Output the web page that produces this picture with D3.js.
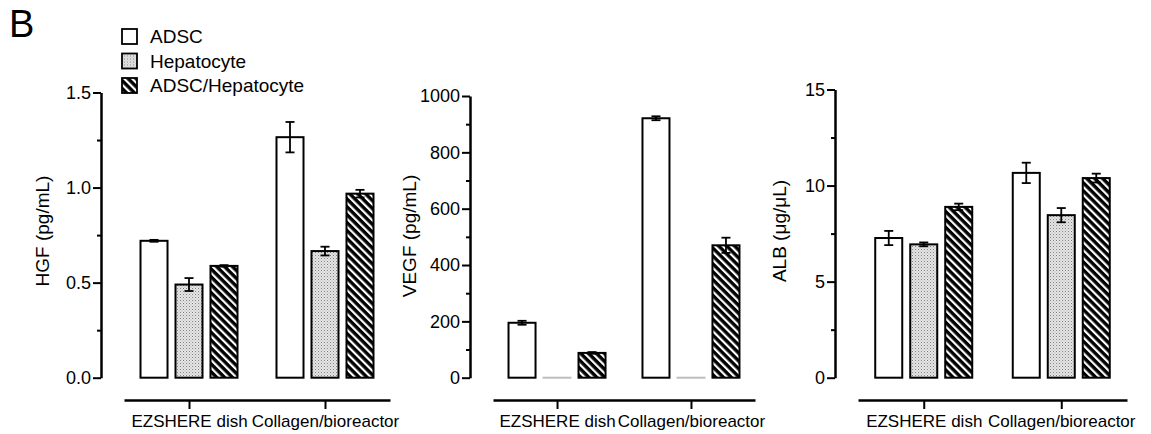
<!DOCTYPE html>
<html><head><meta charset="utf-8">
<script src="https://cdn.jsdelivr.net/npm/d3@7"></script>
<style>body{margin:0;background:#fff}svg{display:block}text{font-family:"Liberation Sans",Arial,sans-serif;fill:#000}</style>
</head><body><svg id="c" width="1151" height="434"></svg>
<script>
const categories = ["EZSHERE dish", "Collagen/bioreactor"];
const series = ["ADSC", "Hepatocyte", "ADSC/Hepatocyte"];
// values[series][category]
const hgfMean = [[0.72, 1.265], [0.49, 0.666], [0.588, 0.968]];
const hgfErr  = [[0.005, 0.08], [0.034, 0.023], [0.004, 0.02]];
const vegfMean = [[195, 921], [0, 0], [88, 470]];
const vegfErr  = [[7, 7], [0, 0], [3, 27]];
const albMean = [[7.27, 10.66], [6.94, 8.46], [8.89, 10.39]];
const albErr  = [[0.37, 0.53], [0.1, 0.37], [0.17, 0.23]];
const hgfTicks = [0, 0.5, 1.0, 1.5];
const hgfMinor = [0.25, 0.75, 1.25];
const vegfTicks = [0, 200, 400, 600, 800, 1000];
const vegfMinor = [100, 300, 500, 700, 900];
const albTicks = [0, 5, 10, 15];
const albMinor = [2.5, 7.5, 12.5];
const yTitles = ["HGF (pg/mL)", "VEGF (pg/mL)", "ALB (\u03bcg/\u03bcL)"];

const svg = d3.select("#c");
const defs = svg.append("defs");
const st = defs.append("pattern").attr("id","stip").attr("patternUnits","userSpaceOnUse").attr("width",3).attr("height",3);
st.append("rect").attr("width",3).attr("height",3).attr("fill","#e6e6e6");
st.append("rect").attr("x",0).attr("y",0).attr("width",1).attr("height",1).attr("fill","#808080");
st.append("rect").attr("x",1.5).attr("y",1.5).attr("width",1).attr("height",1).attr("fill","#a8a8a8");
const ht = defs.append("pattern").attr("id","hatch").attr("patternUnits","userSpaceOnUse").attr("width",5.6).attr("height",5.6).attr("patternTransform","rotate(-45)");
ht.append("rect").attr("width",5.6).attr("height",5.6).attr("fill","#000");
ht.append("rect").attr("x",0).attr("y",0).attr("width",2.2).attr("height",5.6).attr("fill","#fff");
const fills = ["#fff", "url(#stip)", "url(#hatch)"];

const panels = [
  {mean: hgfMean, err: hgfErr, ticks: hgfTicks, minor: hgfMinor, max: 1.5, fmt: d3.format(".1f"),
   yx: 101, yTop: 92.5, xr: [124, 390], title: yTitles[0], tx: 42, ty: 231},
  {mean: vegfMean, err: vegfErr, ticks: vegfTicks, minor: vegfMinor, max: 1000, fmt: d3.format("d"),
   yx: 470, yTop: 96, xr: [493, 755], title: yTitles[1], tx: 409, ty: 236},
  {mean: albMean, err: albErr, ticks: albTicks, minor: albMinor, max: 15, fmt: d3.format("d"),
   yx: 835, yTop: 89.5, xr: [858, 1127], title: yTitles[2], tx: 779, ty: 231}
];
const yBottom = 377.7, xAxisY = 400;
const FF = '"Liberation Sans",Arial,sans-serif';

panels.forEach(p => {
  const g = svg.append("g");
  const y = d3.scaleLinear().domain([0, p.max]).range([yBottom, p.yTop]);
  const x = d3.scalePoint().domain(categories).range(p.xr).padding(0.478);
  const xi = d3.scaleBand().domain(series).range([-49.5, 49.5]).paddingInner(0.171).paddingOuter(0);

  categories.forEach((c, ci) => {
    series.forEach((s, si) => {
      const v = p.mean[si][ci], e = p.err[si][ci];
      const bx = x(c) + xi(s);
      if (v === 0) {
        g.append("line").attr("x1", bx).attr("x2", bx + xi.bandwidth()).attr("y1", y(0)).attr("y2", y(0))
          .attr("stroke", "#bdbdbd").attr("stroke-width", 2);
        return;
      }
      g.append("rect").attr("x", bx + 1).attr("y", y(v)).attr("width", xi.bandwidth() - 2).attr("height", y(0) - y(v))
        .attr("fill", fills[si]).attr("stroke", "#000").attr("stroke-width", 2);
      if (e > 0) {
        const cx = bx + xi.bandwidth() / 2;
        const eg = g.append("g").attr("stroke", "#000").attr("stroke-width", 1.8);
        eg.append("line").attr("x1", cx).attr("x2", cx).attr("y1", y(v + e)).attr("y2", y(v - e));
        eg.append("line").attr("x1", cx - 4.5).attr("x2", cx + 4.5).attr("y1", y(v + e)).attr("y2", y(v + e));
        eg.append("line").attr("x1", cx - 4.5).attr("x2", cx + 4.5).attr("y1", y(v - e)).attr("y2", y(v - e));
      }
    });
  });

  const ya = g.append("g").attr("transform", `translate(${p.yx},0)`)
    .call(d3.axisLeft(y).tickValues(p.ticks).tickFormat(p.fmt).tickSize(8).tickSizeOuter(0).tickPadding(2));
  ya.attr("font-size", null).attr("font-family", null);
  ya.select(".domain").attr("stroke-width", 2.5);
  ya.selectAll(".tick line").attr("stroke-width", 2);
  ya.selectAll(".tick text").style("font-size", "18px").style("font-family", FF);
  const ym = g.append("g").attr("transform", `translate(${p.yx},0)`)
    .call(d3.axisLeft(y).tickValues(p.minor).tickFormat("").tickSize(4).tickSizeOuter(0));
  ym.select(".domain").remove();
  ym.selectAll(".tick line").attr("stroke-width", 2);

  const xa = g.append("g").attr("transform", `translate(0,${xAxisY})`)
    .call(d3.axisBottom(x).tickSize(9).tickSizeOuter(0).tickPadding(5));
  xa.attr("font-size", null).attr("font-family", null);
  xa.select(".domain").attr("stroke-width", 2.5);
  xa.selectAll(".tick line").attr("stroke-width", 2);
  xa.selectAll(".tick text").style("font-size", "17px").style("font-family", FF).attr("dy", "0.75em");

  g.append("text").attr("transform", `translate(${p.tx},${p.ty}) rotate(-90)`)
    .attr("text-anchor", "middle").attr("dominant-baseline", "central").style("font-size", "19px").text(p.title);
});

svg.append("text").attr("x", 9).attr("y", 37).style("font-size", "38px").text("B");
const lg = svg.append("g").attr("transform", "translate(121,28)");
series.forEach((s, i) => {
  const r = lg.append("g").attr("transform", `translate(0,${i * 24.5})`);
  r.append("rect").attr("x", 1).attr("y", 1).attr("width", 15).attr("height", 15)
    .attr("fill", fills[i]).attr("stroke", "#000").attr("stroke-width", 1.8);
  r.append("text").attr("x", 29).attr("y", 8.5).attr("dominant-baseline", "central").style("font-size", "19px").text(s);
});
</script></body></html>
